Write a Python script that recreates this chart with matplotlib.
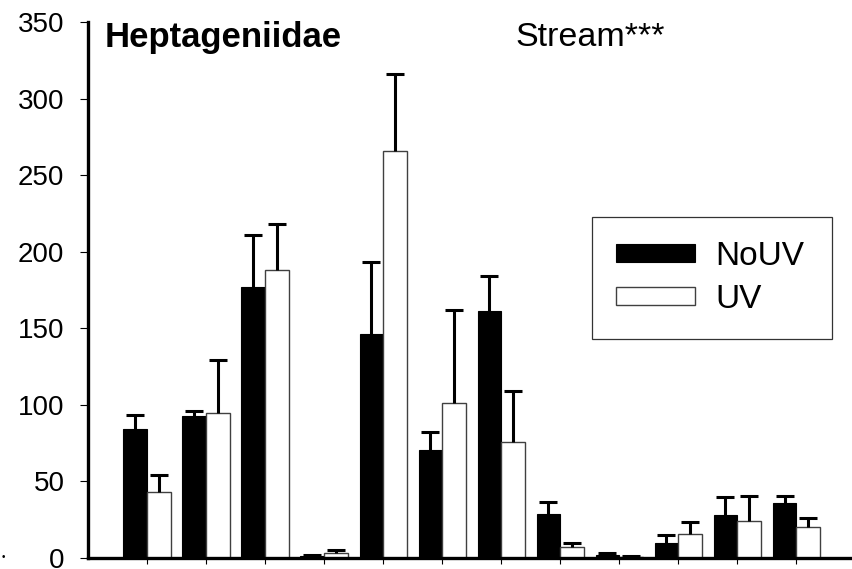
import numpy as np
import matplotlib.pyplot as plt

# valeurs (12 groupes)
groups = np.arange(12)
nouv = [84, 92.5, 177, 1.5, 146, 70.5, 161, 29, 2, 9.8, 28, 36]
nouv_top = [93.3, 96, 210.6, 2, 193, 82, 184, 36.6, 3.3, 15, 39.8, 40.5]
uv = [43, 94.6, 188, 3, 266, 101.4, 75.7, 7.2, 0.8, 15.7, 24, 20.2]
uv_top = [54.2, 129, 218, 5, 316, 161.7, 109.2, 9.8, 1.3, 23.5, 40.5, 26]

nouv_err = np.array(nouv_top) - np.array(nouv)
uv_err = np.array(uv_top) - np.array(uv)

plt.rcParams['font.family'] = ['Liberation Sans', 'DejaVu Sans']

fig = plt.figure(figsize=(8.53, 5.69), dpi=100)
ax = fig.add_axes([88/853, 1 - 558/569, (853 - 88)/853, 536/569])

w = 0.4
ax.bar(groups - w/2, nouv, w, color='black', edgecolor='black', linewidth=0.8, label='NoUV', zorder=2)
ax.bar(groups + w/2, uv, w, color='white', edgecolor='#404040', linewidth=1.0, label='UV', zorder=2)

for x, y, e in [(groups - w/2, nouv, nouv_err), (groups + w/2, uv, uv_err)]:
    eb = ax.errorbar(x, y, yerr=[np.zeros(len(e)), e], fmt='none', ecolor='black',
                     elinewidth=2.2, capsize=6.5, capthick=2.2, zorder=3)
    eb[1][0].set_visible(False)

ax.set_xlim(-1, 11.96)
ax.set_ylim(0, 350)
ax.set_yticks(np.arange(0, 351, 50))
ax.set_xticks(groups)
ax.set_xticklabels([])
ax.tick_params(axis='y', direction='out', length=6, width=0.8, pad=11, labelsize=20)
ax.tick_params(axis='x', direction='out', length=4, width=0.8)

for s in ['top', 'right']:
    ax.spines[s].set_visible(False)
for s in ['left', 'bottom']:
    ax.spines[s].set_linewidth(2.4)

fig.text(105/853, 1 - 47/569, 'Heptageniidae', fontsize=25, fontweight='bold', va='baseline')
fig.text(515/853, 1 - 46/569, 'Stream***', fontsize=24.5, va='baseline')
fig.text(3/853, 1 - 557/569, '•', fontsize=7, ha='center', va='center')

leg = ax.legend(loc='upper left', bbox_to_anchor=(592/853, 1 - 217/569 - 0.01, (832 - 592)/853, 0.01),
                bbox_transform=fig.transFigure, mode='expand', fontsize=24,
                handlelength=2.37, handleheight=0.48, handletextpad=0.6,
                borderpad=0.72, labelspacing=0.36, fancybox=False, framealpha=1,
                borderaxespad=0)
leg.get_frame().set_edgecolor('#333333')
leg.get_frame().set_linewidth(0.9)

fig.savefig('out.png', dpi=100)
